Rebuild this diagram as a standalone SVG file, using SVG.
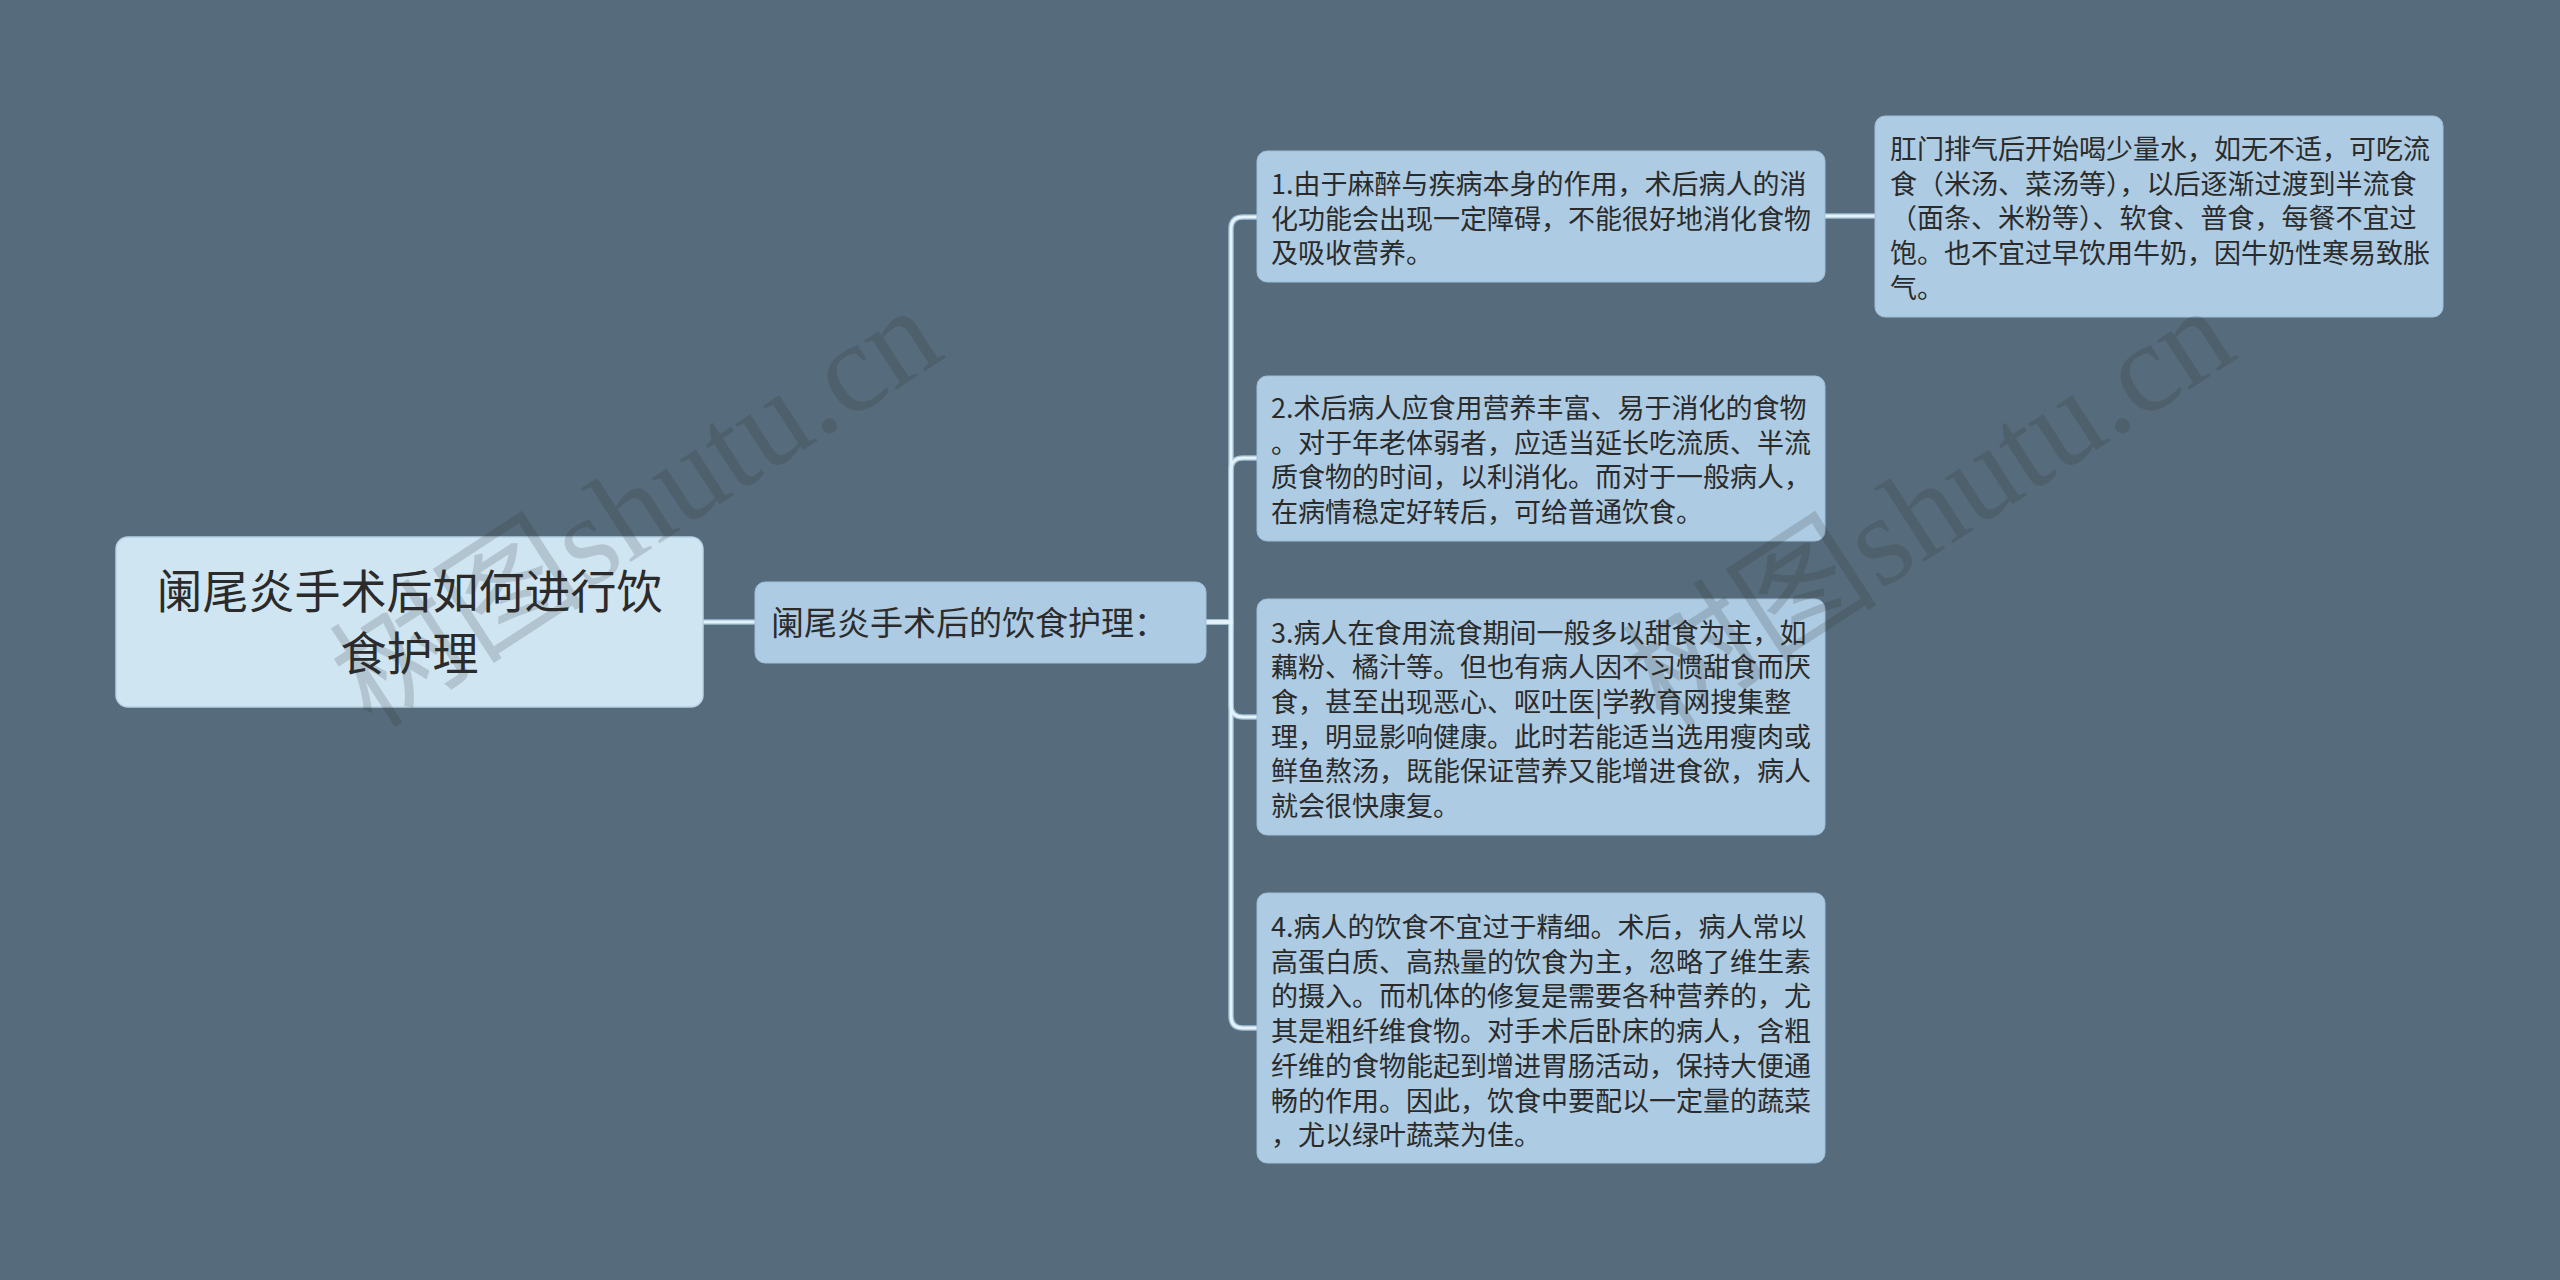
<svg xmlns="http://www.w3.org/2000/svg" width="2560" height="1280" viewBox="0 0 2560 1280">
<style>
.bg{fill:#566b7b}
.root{fill:#cfe5f2;stroke:#b7d2e4;stroke-width:1.5}
.box{fill:#adcbe2;stroke:#9fbfd8;stroke-width:1}
.t{font-family:"Noto Sans CJK SC","Noto Sans",sans-serif;fill:#2b2b2b}
.t0{font-size:46px}
.t1{font-size:33px}
.t2{font-size:27px}
.cout{fill:none;stroke:#9ebdd3;stroke-width:5.5;stroke-linecap:round}
.cin{fill:none;stroke:#e4f2fa;stroke-width:3;stroke-linecap:round}
.wm{font-family:"Liberation Serif","Noto Sans CJK SC",serif;font-size:128px;fill:#333;fill-opacity:0.18}
</style>
<rect class="bg" x="0" y="0" width="2560" height="1280"/>
<g id="connectors">
<g class="cout">
<path d="M703,622 H755"/>
<path d="M1206,622 H1231 V229 Q1231,217 1243,217 H1257"/>
<path d="M1206,622 H1231 V470 Q1231,458 1243,458 H1257"/>
<path d="M1206,622 H1231 V705 Q1231,717 1243,717 H1257"/>
<path d="M1206,622 H1231 V1016 Q1231,1028 1243,1028 H1257"/>
<path d="M1825,216 H1875"/>
</g>
<g class="cin">
<path d="M703,622 H755"/>
<path d="M1206,622 H1231 V229 Q1231,217 1243,217 H1257"/>
<path d="M1206,622 H1231 V470 Q1231,458 1243,458 H1257"/>
<path d="M1206,622 H1231 V705 Q1231,717 1243,717 H1257"/>
<path d="M1206,622 H1231 V1016 Q1231,1028 1243,1028 H1257"/>
<path d="M1825,216 H1875"/>
</g>
</g>
<g id="root">
<rect class="root" x="116" y="537" width="587" height="170" rx="12"/>
<text class="t t0" text-anchor="middle"><tspan x="409.5" y="608">阑尾炎手术后如何进行饮</tspan><tspan x="409.5" y="670">食护理</tspan></text>
</g>
<g id="mid">
<rect class="box" x="755" y="582" width="451" height="81" rx="10"/>
<text class="t t1" x="771" y="635">阑尾炎手术后的饮食护理：</text>
</g>
<g id="leaf1">
<rect class="box" x="1257" y="151" width="568" height="131" rx="10"/>
<text class="t t2"><tspan x="1271" y="194">1.由于麻醉与疾病本身的作用，术后病人的消</tspan><tspan x="1271" y="228.5">化功能会出现一定障碍，不能很好地消化食物</tspan><tspan x="1271" y="263">及吸收营养。</tspan></text>
</g>
<g id="leaf1-1">
<rect class="box" x="1875" y="116" width="568" height="201" rx="10"/>
<text class="t t2"><tspan x="1890" y="159">肛门排气后开始喝少量水，如无不适，可吃流</tspan><tspan x="1890" y="193.7">食（米汤、菜汤等），以后逐渐过渡到半流食</tspan><tspan x="1890" y="228.4">（面条、米粉等）、软食、普食，每餐不宜过</tspan><tspan x="1890" y="263.1">饱。也不宜过早饮用牛奶，因牛奶性寒易致胀</tspan><tspan x="1890" y="297.8">气。</tspan></text>
</g>
<g id="leaf2">
<rect class="box" x="1257" y="376" width="568" height="165" rx="10"/>
<text class="t t2"><tspan x="1271" y="418">2.术后病人应食用营养丰富、易于消化的食物</tspan><tspan x="1271" y="452.7">。对于年老体弱者，应适当延长吃流质、半流</tspan><tspan x="1271" y="487.4">质食物的时间，以利消化。而对于一般病人，</tspan><tspan x="1271" y="522.1">在病情稳定好转后，可给普通饮食。</tspan></text>
</g>
<g id="leaf3">
<rect class="box" x="1257" y="599" width="568" height="236" rx="10"/>
<text class="t t2"><tspan x="1271" y="642.5">3.病人在食用流食期间一般多以甜食为主，如</tspan><tspan x="1271" y="677.2">藕粉、橘汁等。但也有病人因不习惯甜食而厌</tspan><tspan x="1271" y="711.9">食，甚至出现恶心、呕吐医|学教育网搜集整</tspan><tspan x="1271" y="746.6">理，明显影响健康。此时若能适当选用瘦肉或</tspan><tspan x="1271" y="781.3">鲜鱼熬汤，既能保证营养又能增进食欲，病人</tspan><tspan x="1271" y="816">就会很快康复。</tspan></text>
</g>
<g id="leaf4">
<rect class="box" x="1257" y="893" width="568" height="270" rx="10"/>
<text class="t t2"><tspan x="1271" y="937">4.病人的饮食不宜过于精细。术后，病人常以</tspan><tspan x="1271" y="971.7">高蛋白质、高热量的饮食为主，忽略了维生素</tspan><tspan x="1271" y="1006.4">的摄入。而机体的修复是需要各种营养的，尤</tspan><tspan x="1271" y="1041.1">其是粗纤维食物。对手术后卧床的病人，含粗</tspan><tspan x="1271" y="1075.8">纤维的食物能起到增进胃肠活动，保持大便通</tspan><tspan x="1271" y="1110.5">畅的作用。因此，饮食中要配以一定量的蔬菜</tspan><tspan x="1271" y="1145.2">，尤以绿叶蔬菜为佳。</tspan></text>
</g>
<g id="watermark">
<text class="wm" transform="translate(372,730) rotate(-33)">树图shutu.cn</text>
<text class="wm" transform="translate(1665,730) rotate(-33)">树图shutu.cn</text>
</g>
</svg>
